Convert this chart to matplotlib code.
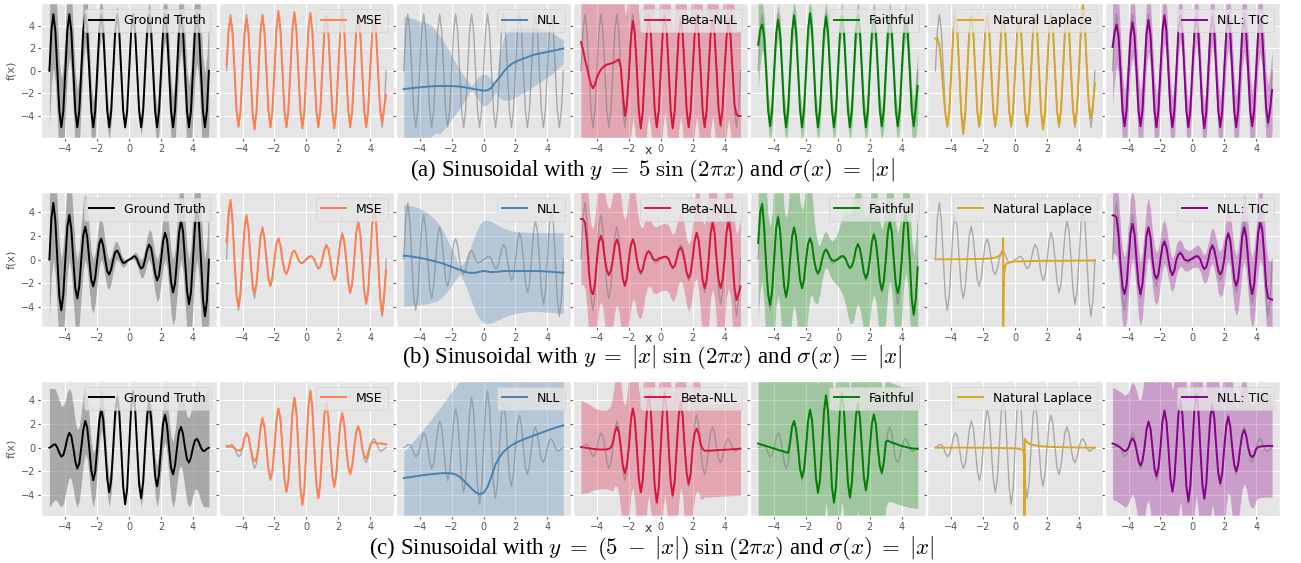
import numpy as np
import matplotlib
matplotlib.use("Agg")
import matplotlib.pyplot as plt

plt.style.use("ggplot")
plt.rcParams["mathtext.fontset"] = "cm"

# sample positions: fine grid (0.125 step) and NLL grid (0.25 step)
x = np.linspace(-5, 5, 81)
x_nll = np.linspace(-5, 5, 41)

# noise level of the data, sigma(x) = |x|
gt_sigma = [
    5.0, 4.875, 4.75, 4.625, 4.5, 4.375, 4.25, 4.125,
    4.0, 3.875, 3.75, 3.625, 3.5, 3.375, 3.25, 3.125,
    3.0, 2.875, 2.75, 2.625, 2.5, 2.375, 2.25, 2.125,
    2.0, 1.875, 1.75, 1.625, 1.5, 1.375, 1.25, 1.125,
    1.0, 0.875, 0.75, 0.625, 0.5, 0.375, 0.25, 0.125,
    0.0, 0.125, 0.25, 0.375, 0.5, 0.625, 0.75, 0.875,
    1.0, 1.125, 1.25, 1.375, 1.5, 1.625, 1.75, 1.875,
    2.0, 2.125, 2.25, 2.375, 2.5, 2.625, 2.75, 2.875,
    3.0, 3.125, 3.25, 3.375, 3.5, 3.625, 3.75, 3.875,
    4.0, 4.125, 4.25, 4.375, 4.5, 4.625, 4.75, 4.875,
    5.0,
]

# ---------------- row (a): y = 5 sin(2 pi x) ----------------
gt_a = [
    0, 3.54, 5.0, 3.54, 0, -3.54, -5.0, -3.54,
    0, 3.54, 5.0, 3.54, 0, -3.54, -5.0, -3.54,
    0, 3.54, 5.0, 3.54, 0, -3.54, -5.0, -3.54,
    0, 3.54, 5.0, 3.54, 0, -3.54, -5.0, -3.54,
    0, 3.54, 5.0, 3.54, 0, -3.54, -5.0, -3.54,
    0, 3.54, 5.0, 3.54, 0, -3.54, -5.0, -3.54,
    0, 3.54, 5.0, 3.54, 0, -3.54, -5.0, -3.54,
    0, 3.54, 5.0, 3.54, 0, -3.54, -5.0, -3.54,
    0, 3.54, 5.0, 3.54, 0, -3.54, -5.0, -3.54,
    0, 3.54, 5.0, 3.54, 0, -3.54, -5.0, -3.54,
    0,
]
mse_a = [
    0.5, 3.6, 4.7, 3.3, 0.0, -3.5, -4.9, -3.5,
    0.0, 3.3, 4.6, 3.3, 0.0, -3.7, -5.2, -3.7,
    0.0, 3.5, 4.9, 3.5, 0.0, -3.5, -5.0, -3.5,
    0.0, 3.7, 5.3, 3.7, 0.0, -3.5, -5.0, -3.5,
    0.0, 3.7, 5.2, 3.7, 0.0, -3.6, -5.1, -3.6,
    0.0, 3.6, 5.1, 3.6, 0.0, -3.5, -5.0, -3.5,
    0.0, 3.4, 4.8, 3.4, 0.0, -3.6, -5.1, -3.6,
    0.0, 3.7, 5.3, 3.7, 0.0, -3.5, -5.0, -3.5,
    0.0, 3.5, 5.0, 3.5, 0.0, -3.5, -5.0, -3.5,
    0.0, 3.3, 4.6, 3.2, -0.2, -3.4, -4.5, -3.3,
    -2.1,
]
nll_a = [
    -1.62, -1.58, -1.54, -1.5, -1.46, -1.43, -1.4, -1.38, -1.36, -1.35,
    -1.35, -1.35, -1.35, -1.37, -1.4, -1.45, -1.5, -1.57, -1.64, -1.7,
    -1.76, -1.72, -1.5, -1.0, -0.6, -0.1, 0.3, 0.6, 0.78, 0.95,
    1.08, 1.2, 1.35, 1.45, 1.52, 1.6, 1.67, 1.74, 1.82, 1.9,
    1.97,
]
nll_a_hi = [
    4.8, 4.75, 4.65, 4.55, 4.4, 4.3, 4.2, 4.0, 3.6, 3.1,
    2.6, 2.0, 1.3, 0.7, 0.1, -0.4, -0.85, -1.4, -0.85, -0.45,
    -0.3, -0.4, -0.75, -1.3, 1.5, 2.85, 3.4, 3.7, 3.8, 3.85,
    3.9, 3.9, 3.85, 3.8, 3.75, 3.7, 3.55, 3.4, 3.2, 2.95,
    2.7,
]
nll_a_lo = [
    -7.5, -7.3, -7.1, -6.9, -6.7, -6.4, -6.1, -5.8, -5.5, -5.6,
    -5.2, -4.75, -4.3, -3.85, -3.35, -2.8, -2.25, -1.7, -2.2, -2.75,
    -3.1, -3.0, -2.55, -1.9, -2.4, -2.6, -2.6, -2.5, -2.35, -2.15,
    -1.95, -1.75, -1.5, -1.25, -1.0, -0.8, -0.55, -0.3, -0.05, 0.3,
    0.65,
]
beta_a = [
    2.55, 1.9, 1.0, 0.3, -0.5, -1.2, -1.55, -1.2,
    -0.6, -0.2, 0.1, 0.3, 0.45, 0.55, 0.6, 0.65,
    0.7, 0.8, 0.9, 1.0, 0.3, -2.0, -4.0, -3.0,
    -0.5, 2.8, 4.4, 3.3, 0.2, -3.5, -5.1, -3.6,
    0.0, 3.3, 4.6, 3.3, 0.0, -3.5, -5.0, -3.5,
    0.0, 3.4, 4.9, 3.4, 0.0, -3.6, -5.1, -3.6,
    0.0, 3.2, 4.5, 3.2, 0.0, -3.5, -5.0, -3.5,
    0.0, 3.2, 4.5, 3.2, 0.0, -3.5, -5.0, -3.5,
    0.0, 3.2, 4.5, 3.2, 0.0, -3.4, -4.8, -3.4,
    0.0, 3.0, 4.3, 3.0, 0.0, -3.0, -3.9, -4.0,
    -4.0,
]
beta_a_sd = [
    12, 12, 12, 12, 12, 12, 12, 12,
    12, 12, 12, 12, 12, 12, 12, 12,
    12, 12, 12, 11, 10, 9.5, 9, 8.5,
    8.5, 8.5, 8.5, 8.5, 8.5, 8.5, 8.5, 8.5,
    8.5, 8.5, 8.5, 8.5, 8.5, 8.5, 8.5, 8.5,
    8.5, 8.5, 8.5, 8.5, 8.5, 8.5, 8.5, 8.5,
    8.5, 8.5, 8.5, 8.5, 8.5, 8.5, 8.5, 8.5,
    8.5, 8.5, 8.5, 8.5, 8.5, 8.5, 8.5, 8.5,
    8.5, 8.5, 8.5, 8.5, 8.5, 8.5, 8.5, 8.5,
    8.5, 8.5, 8.5, 8.5, 8.2, 7.9, 7.6, 7.5,
    7.5,
]
faith_a = [
    2.3, 3.6, 4.1, 3.0, 0.0, -3.5, -4.9, -3.5,
    0.0, 3.2, 4.5, 3.2, 0.0, -3.5, -5.0, -3.5,
    0.0, 3.5, 4.9, 3.5, 0.0, -3.5, -5.0, -3.5,
    0.0, 3.6, 5.1, 3.6, 0.0, -3.5, -5.0, -3.5,
    0.0, 3.4, 4.8, 3.4, 0.0, -3.5, -5.0, -3.5,
    0.0, 3.4, 4.8, 3.4, 0.0, -3.5, -5.0, -3.5,
    0.0, 3.5, 4.9, 3.5, 0.0, -3.5, -5.0, -3.5,
    0.0, 3.4, 4.8, 3.4, 0.0, -3.5, -4.9, -3.5,
    0.0, 3.3, 4.7, 3.3, 0.0, -3.5, -4.9, -3.5,
    0.0, 3.2, 4.5, 3.2, 0.0, -3.5, -4.9, -3.2,
    -1.35,
]
faith_a_sd = [
    4.0, 3.0, 2.2, 1.8, 1.6, 1.5, 1.5, 1.5,
    1.5, 1.5, 1.5, 1.5, 1.5, 1.5, 1.5, 1.5,
    1.5, 1.5, 1.5, 1.5, 1.5, 1.5, 1.5, 1.5,
    1.5, 1.5, 1.5, 1.5, 1.5, 1.5, 1.5, 1.5,
    1.4, 1.4, 1.4, 1.4, 1.4, 1.4, 1.4, 1.4,
    1.4, 1.4, 1.4, 1.4, 1.4, 1.4, 1.4, 1.4,
    1.5, 1.5, 1.5, 1.5, 1.5, 1.5, 1.5, 1.5,
    1.5, 1.5, 1.5, 1.5, 1.5, 1.5, 1.5, 1.5,
    1.5, 1.5, 1.5, 1.5, 1.5, 1.5, 1.5, 1.5,
    1.5, 1.5, 1.5, 1.6, 1.8, 2.0, 2.3, 2.7,
    3.0,
]
lap_a = [
    2.85, 2.9, 2.3, 0.5, -1.8, -3.8, -4.9, -3.6,
    0.0, 3.5, 4.9, 3.5, 0.0, -3.9, -5.6, -3.9,
    0.0, 3.4, 4.8, 3.4, 0.0, -3.5, -4.9, -3.5,
    0.0, 3.5, 4.9, 3.5, 0.0, -3.5, -4.9, -3.5,
    0.0, 3.5, 4.9, 3.5, 0.0, -3.5, -4.9, -3.5,
    0.0, 3.4, 4.8, 3.4, 0.0, -3.5, -4.9, -3.5,
    0.0, 3.6, 5.1, 3.6, 0.0, -3.7, -5.2, -3.7,
    0.0, 3.6, 5.1, 3.6, 0.0, -3.5, -4.9, -3.5,
    0.0, 3.6, 5.2, 3.6, 0.0, -3.4, -4.8, -3.4,
    0.0, 4.2, 5.9, 4.0, 0.0, -3.0, -4.2, -3.0,
    -1.1,
]
tic_a = [
    2.1, 3.4, 4.1, 3.0, 0.0, -3.5, -4.9, -3.5,
    0.0, 3.1, 4.3, 3.1, 0.0, -3.5, -4.9, -3.5,
    0.0, 3.2, 4.5, 3.2, 0.0, -3.5, -5.0, -3.5,
    0.0, 3.5, 4.9, 3.5, 0.0, -3.5, -5.0, -3.5,
    0.0, 3.5, 4.9, 3.5, 0.0, -3.5, -5.0, -3.5,
    0.0, 3.4, 4.7, 3.4, 0.0, -3.6, -5.1, -3.6,
    0.0, 3.4, 4.8, 3.4, 0.0, -3.5, -5.0, -3.5,
    0.0, 3.4, 4.8, 3.4, 0.0, -3.5, -5.0, -3.5,
    0.0, 3.3, 4.7, 3.3, 0.0, -3.5, -4.9, -3.5,
    0.0, 3.3, 4.6, 3.3, 0.0, -3.3, -4.6, -3.4,
    -1.7,
]
tic_a_sd = [
    5.0, 4.2, 3.6, 3.3, 3.1, 3.0, 3.0, 3.0,
    3.0, 3.0, 3.0, 3.0, 3.0, 3.0, 3.0, 3.0,
    2.8, 2.8, 2.8, 2.8, 2.8, 2.8, 2.8, 2.8,
    2.5, 2.5, 2.5, 2.5, 2.5, 2.5, 2.5, 2.5,
    2.2, 2.2, 2.2, 2.2, 2.2, 2.2, 2.2, 2.2,
    2.2, 2.2, 2.2, 2.2, 2.2, 2.2, 2.2, 2.2,
    2.5, 2.5, 2.5, 2.5, 2.5, 2.5, 2.5, 2.5,
    2.8, 2.8, 2.8, 2.8, 2.8, 2.8, 2.8, 2.8,
    3.0, 3.0, 3.0, 3.0, 3.0, 3.0, 3.0, 3.0,
    3.0, 3.0, 3.0, 3.0, 3.1, 3.2, 3.3, 3.4,
    3.5,
]

# ---------------- row (b): y = |x| sin(2 pi x) ----------------
gt_b = [
    0, 3.45, 4.75, 3.27, 0, -3.09, -4.25, -2.92,
    0, 2.74, 3.75, 2.56, 0, -2.39, -3.25, -2.21,
    0, 2.03, 2.75, 1.86, 0, -1.68, -2.25, -1.50,
    0, 1.33, 1.75, 1.15, 0, -0.97, -1.25, -0.80,
    0, 0.62, 0.75, 0.44, 0, -0.27, -0.25, -0.09,
    0, 0.09, 0.25, 0.27, 0, -0.44, -0.75, -0.62,
    0, 0.80, 1.25, 0.97, 0, -1.15, -1.75, -1.33,
    0, 1.50, 2.25, 1.68, 0, -1.86, -2.75, -2.03,
    0, 2.21, 3.25, 2.39, 0, -2.56, -3.75, -2.74,
    0, 2.92, 4.25, 3.09, 0, -3.27, -4.75, -3.45,
    0,
]
mse_b = [
    1.45, 4.0, 5.0, 3.2, -0.2, -3.0, -3.9, -2.7,
    0.0, 2.6, 3.7, 2.5, 0.0, -2.0, -2.8, -2.0,
    0.0, 1.9, 2.6, 1.8, 0.0, -1.6, -2.2, -1.5,
    0.0, 1.3, 1.8, 1.2, 0.0, -0.9, -1.2, -0.8,
    0.0, 0.6, 0.75, 0.45, 0.0, -0.25, -0.3, -0.15,
    0.05, 0.2, 0.3, 0.25, 0.0, -0.45, -0.75, -0.6,
    0.0, 0.8, 1.2, 0.9, 0.0, -1.15, -1.7, -1.3,
    0.0, 1.4, 2.1, 1.5, 0.0, -1.9, -2.8, -2.0,
    0.0, 2.2, 3.1, 2.2, 0.0, -2.6, -3.7, -2.6,
    0.0, 3.0, 4.2, 3.0, 0.0, -3.2, -4.6, -2.9,
    -0.9,
]
nll_b = [
    0.33, 0.3, 0.25, 0.2, 0.15, 0.08, 0.0, -0.08, -0.15, -0.25,
    -0.35, -0.48, -0.6, -0.73, -0.85, -0.98, -1.08, -1.12, -1.1, -1.02,
    -0.95, -1.0, -1.05, -1.03, -1.0, -0.96, -0.96, -0.96, -0.96, -0.96,
    -0.96, -0.96, -0.96, -0.96, -0.96, -0.98, -1.0, -1.02, -1.05, -1.08,
    -1.1,
]
nll_b_hi = [
    4.6, 4.55, 4.5, 4.4, 4.3, 4.1, 3.9, 3.6, 3.3, 2.85,
    2.3, 1.65, 0.9, 0.15, -0.6, -0.3, 0.4, 1.3, 2.2, 2.9,
    3.3, 3.3, 3.2, 3.0, 2.8, 2.65, 2.5, 2.42, 2.35, 2.3,
    2.3, 2.28, 2.27, 2.26, 2.25, 2.25, 2.25, 2.25, 2.25, 2.25,
    2.25,
]
nll_b_lo = [
    -3.9, -3.88, -3.85, -3.82, -3.8, -3.75, -3.7, -3.6, -3.5, -3.3,
    -3.0, -2.6, -2.2, -1.7, -1.2, -1.8, -2.6, -3.5, -4.4, -5.0,
    -5.3, -5.35, -5.3, -5.15, -5.0, -4.85, -4.7, -4.6, -4.5, -4.45,
    -4.4, -4.35, -4.35, -4.35, -4.35, -4.38, -4.4, -4.42, -4.45, -4.48,
    -4.5,
]
beta_b = [
    3.4, 3.4, 3.1, 1.5, -1.0, -2.6, -2.9, -2.0,
    0.0, 1.5, 2.0, 1.4, 0.0, -0.9, -1.3, -0.9,
    0.0, 1.2, 1.7, 1.2, -0.2, -1.6, -2.2, -1.6,
    0.0, 1.2, 1.7, 1.2, 0.0, -0.8, -1.1, -0.8,
    0.0, 0.5, 0.7, 0.5, 0.1, -0.05, -0.05, 0.1,
    0.15, 0.2, 0.25, 0.2, 0.05, -0.4, -0.7, -0.5,
    0.1, 0.8, 1.0, 0.7, -0.1, -1.1, -1.55, -1.1,
    0.1, 1.6, 2.25, 1.6, 0.0, -1.7, -2.4, -1.7,
    0.0, 2.2, 3.1, 2.2, 0.0, -1.7, -2.4, -1.7,
    0.0, 2.3, 3.2, 2.3, 0.0, -2.4, -3.4, -2.9,
    -2.25,
]
beta_b_sd = [
    5.5, 5.5, 5.5, 5.5, 5.5, 5.5, 5.5, 5.5,
    5.5, 5.5, 5.5, 5.5, 5.5, 5.5, 5.5, 5.5,
    5.5, 5.5, 5.5, 5.5, 5.5, 5.5, 5.5, 5.5,
    5.5, 5.3, 5.0, 4.7, 4.4, 4.1, 3.8, 3.5,
    3.2, 3.0, 2.9, 2.8, 2.8, 2.8, 2.8, 2.8,
    2.8, 2.8, 2.8, 2.8, 2.8, 2.8, 2.8, 2.8,
    2.8, 2.8, 2.8, 2.8, 2.8, 2.8, 2.8, 2.8,
    3.0, 3.4, 3.8, 4.2, 4.6, 5.0, 5.3, 5.5,
    5.5, 5.5, 5.5, 5.5, 5.5, 5.5, 5.5, 5.5,
    5.5, 5.5, 5.5, 5.5, 5.5, 5.5, 5.5, 5.5,
    5.5,
]
faith_b = [
    1.4, 4.0, 4.65, 2.6, -0.5, -2.9, -3.8, -2.6,
    0.0, 2.6, 3.55, 2.4, 0.0, -2.2, -3.1, -2.2,
    0.0, 1.9, 2.7, 1.9, 0.0, -1.7, -2.4, -1.7,
    0.0, 1.3, 1.8, 1.3, 0.0, -0.8, -1.15, -0.8,
    0.0, 0.6, 0.85, 0.6, 0.2, -0.05, -0.1, -0.05,
    0.05, 0.2, 0.3, 0.25, 0.0, -0.45, -0.7, -0.55,
    0.0, 0.9, 1.3, 0.9, 0.0, -1.1, -1.55, -1.1,
    0.0, 1.5, 2.1, 1.5, 0.0, -1.8, -2.55, -1.8,
    0.0, 2.3, 3.2, 2.3, 0.0, -2.0, -2.8, -2.0,
    0.0, 2.8, 3.95, 2.8, 0.0, -3.3, -4.6, -3.3,
    -0.65,
]
faith_b_sd = [
    6.5, 6.5, 6.5, 6.5, 6.5, 6.5, 6.5, 6.5,
    6.5, 6.5, 6.5, 6.5, 6.5, 6.5, 6.5, 6.5,
    6.5, 6.5, 6.5, 6.5, 6.5, 6.5, 6.5, 6.5,
    6.5, 5.8, 5.0, 4.2, 3.5, 2.9, 2.4, 2.0,
    1.8, 1.6, 1.5, 1.5, 1.5, 1.6, 1.8, 2.0,
    2.3, 2.7, 3.1, 3.5, 3.9, 4.3, 4.6, 4.8,
    5.0, 5.0, 5.0, 5.0, 5.0, 5.0, 5.0, 5.0,
    5.0, 5.0, 5.0, 5.0, 5.0, 5.0, 5.0, 5.0,
    5.0, 5.0, 5.0, 5.0, 5.0, 5.0, 5.0, 5.0,
    5.0, 5.0, 5.0, 5.0, 5.0, 5.0, 5.0, 5.0,
    5.0,
]
lap_b_x = [-5, -4, -3, -2, -1.5, -1.2, -1.0, -0.9, -0.82, -0.78, -0.76, -0.75,
           -0.749, -0.73, -0.7, -0.65, -0.6, -0.5, -0.3, 0, 1, 2, 3, 4, 5]
lap_b = [0.02, 0.02, 0.03, 0.05, 0.1, 0.18, 0.3, 0.42, 0.6, 0.85, 1.2, 1.8,
         -8.0, -3.0, -1.4, -0.7, -0.45, -0.3, -0.2, -0.15, -0.12, -0.1, -0.1, -0.08, -0.08]
tic_b = [
    3.7, 3.7, 3.5, 2.0, -0.5, -2.3, -2.9, -2.1,
    0.0, 2.2, 3.0, 2.1, 0.0, -2.0, -2.9, -2.0,
    0.0, 2.0, 2.7, 1.9, 0.0, -1.2, -1.6, -1.2,
    0.0, 1.1, 1.5, 1.0, 0.0, -0.9, -1.3, -0.9,
    0.0, 0.4, 0.55, 0.35, 0.0, -0.05, -0.1, 0.0,
    0.1, 0.2, 0.3, 0.25, 0.0, -0.5, -0.8, -0.6,
    0.0, 0.8, 1.2, 0.8, 0.0, -0.9, -1.25, -0.9,
    0.0, 1.6, 2.2, 1.6, 0.0, -1.6, -2.2, -1.6,
    0.0, 1.9, 2.7, 1.9, 0.0, -2.0, -2.9, -2.0,
    0.0, 2.2, 3.1, 2.5, 0.5, -2.2, -3.2, -3.3,
    -3.35,
]
tic_b_sd = [
    3.2, 3.2, 3.2, 3.2, 3.1, 3.1, 3.1, 3.0,
    3.0, 3.0, 2.9, 2.9, 2.8, 2.8, 2.7, 2.7,
    2.6, 2.5, 2.5, 2.4, 2.3, 2.3, 2.2, 2.1,
    2.0, 1.9, 1.8, 1.7, 1.6, 1.5, 1.4, 1.35,
    1.3, 1.2, 1.1, 1.0, 0.95, 0.9, 0.85, 0.8,
    0.8, 0.85, 0.9, 0.95, 1.0, 1.1, 1.2, 1.3,
    1.35, 1.4, 1.5, 1.6, 1.7, 1.8, 1.9, 2.0,
    2.1, 2.2, 2.3, 2.3, 2.4, 2.5, 2.5, 2.6,
    2.7, 2.7, 2.8, 2.8, 2.9, 2.9, 3.0, 3.0,
    3.0, 3.1, 3.1, 3.1, 3.2, 3.2, 3.2, 3.2,
    3.2,
]

# ---------------- row (c): y = (5 - |x|) sin(2 pi x) ----------------
gt_c = [
    0, 0.09, 0.25, 0.27, 0, -0.44, -0.75, -0.62,
    0, 0.80, 1.25, 0.97, 0, -1.15, -1.75, -1.33,
    0, 1.50, 2.25, 1.68, 0, -1.86, -2.75, -2.03,
    0, 2.21, 3.25, 2.39, 0, -2.56, -3.75, -2.74,
    0, 2.92, 4.25, 3.09, 0, -3.27, -4.75, -3.45,
    0, 3.45, 4.75, 3.27, 0, -3.09, -4.25, -2.92,
    0, 2.74, 3.75, 2.56, 0, -2.39, -3.25, -2.21,
    0, 2.03, 2.75, 1.86, 0, -1.68, -2.25, -1.50,
    0, 1.33, 1.75, 1.15, 0, -0.97, -1.25, -0.80,
    0, 0.62, 0.75, 0.44, 0, -0.27, -0.25, -0.09,
    0,
]
mse_c = [
    0.15, 0.1, 0.1, 0.05, -0.05, -0.2, -0.25, -0.2,
    0.0, 0.8, 1.2, 0.9, 0.0, -0.8, -1.15, -0.9,
    0.0, 1.7, 2.5, 1.8, 0.0, -1.8, -2.6, -1.9,
    0.0, 2.3, 3.3, 2.4, 0.0, -2.6, -3.7, -2.7,
    0.0, 2.9, 4.2, 3.0, 0.0, -3.4, -4.8, -3.5,
    0.0, 3.4, 4.8, 3.4, 0.0, -3.0, -4.25, -3.0,
    0.0, 2.7, 3.75, 2.6, 0.0, -2.3, -3.3, -2.3,
    0.0, 2.0, 2.9, 2.0, 0.0, -1.5, -2.2, -1.5,
    0.0, 1.3, 1.8, 1.3, 0.0, -0.7, -0.9, -0.4,
    0.2, 0.45, 0.45, 0.4, 0.35, 0.35, 0.35, 0.3,
    0.3,
]
nll_c = [
    -2.55, -2.5, -2.45, -2.4, -2.35, -2.3, -2.26, -2.22, -2.19, -2.16,
    -2.14, -2.14, -2.16, -2.25, -2.45, -2.75, -3.1, -3.45, -3.75, -3.9,
    -3.8, -3.3, -2.4, -1.4, -0.8, -0.35, -0.05, 0.2, 0.4, 0.55,
    0.7, 0.82, 0.95, 1.07, 1.2, 1.32, 1.45, 1.56, 1.68, 1.78,
    1.88,
]
nll_c_hi = [
    -0.3, 0.05, 0.4, 0.8, 1.2, 1.6, 2.0, 2.45, 2.9, 3.35,
    3.8, 4.25, 4.7, 5.15, 5.6, 6.1, 6.6, 8, 8, 8,
    8, 8, 8, 8, 8, 8, 8, 8, 8, 8,
    8, 8, 8, 8, 8, 8, 8, 8, 8, 8,
    8,
]
nll_c_lo = [
    -8, -8, -8, -8, -8, -8, -8, -8, -8, -8,
    -8, -8, -8, -8, -8, -8, -8, -8, -8, -8,
    -8, -8, -8, -8, -8, -8, -8, -8, -8, -8,
    -8, -8, -8, -8, -8, -8, -8, -8, -8, -8,
    -8,
]
beta_c = [
    0.05, 0.03, 0.0, -0.02, -0.05, -0.07, -0.1, -0.12,
    -0.13, -0.14, -0.15, -0.15, -0.15, -0.14, -0.1, 0.0,
    0.4, 1.3, 1.75, 1.3, 0.0, -1.5, -2.15, -1.5,
    0.0, 2.3, 3.3, 2.4, 0.0, -2.6, -3.75, -2.7,
    0.0, 3.0, 4.4, 3.1, 0.0, -3.3, -4.6, -3.3,
    0.0, 3.2, 4.6, 3.2, 0.0, -2.9, -4.0, -2.8,
    0.0, 2.7, 3.9, 2.7, 0.0, -2.1, -3.05, -2.2,
    0.0, 1.2, 1.6, 1.2, 0.3, -0.1, -0.25, -0.25,
    -0.25, -0.24, -0.23, -0.22, -0.21, -0.2, -0.19, -0.18,
    -0.17, -0.16, -0.15, -0.14, -0.13, -0.12, -0.11, -0.1,
    -0.1,
]
beta_c_sd = [
    3.9, 3.9, 3.8, 3.8, 3.7, 3.6, 3.5, 3.4,
    3.4, 3.35, 3.3, 3.3, 3.3, 3.35, 3.4, 3.6,
    4.0, 4.5, 5.0, 5.2, 5.4, 5.5, 5.6, 5.8,
    6.0, 6.3, 6.6, 6.9, 7.2, 7.4, 7.6, 7.8,
    8.0, 8.2, 8.4, 8.5, 8.5, 8.5, 8.5, 8.5,
    8.5, 8.5, 8.5, 8.5, 8.4, 8.2, 8.0, 7.8,
    7.6, 7.4, 7.2, 6.9, 6.6, 6.3, 6.0, 5.8,
    5.6, 5.4, 5.2, 5.0, 4.6, 4.2, 3.9, 3.9,
    3.9, 3.9, 3.9, 3.9, 3.9, 3.9, 3.9, 3.9,
    3.9, 3.9, 3.9, 3.9, 3.9, 3.9, 3.9, 3.9,
    3.9,
]
faith_c = [
    0.35, 0.30, 0.24, 0.19, 0.14, 0.09, 0.03, -0.02,
    -0.07, -0.12, -0.18, -0.23, -0.28, -0.33, -0.39, -0.44,
    0.5, 1.8, 2.25, 1.5, 0.0, -1.8, -2.5, -1.8,
    0.0, 2.2, 3.2, 2.3, 0.0, -2.6, -3.8, -2.7,
    0.0, 3.0, 4.4, 3.1, 0.0, -3.3, -4.6, -3.3,
    0.0, 3.2, 4.5, 3.2, 0.0, -2.9, -4.2, -2.9,
    0.0, 2.6, 3.7, 2.6, 0.0, -2.5, -3.6, -2.5,
    0.0, 2.0, 2.8, 2.0, 0.0, -1.5, -2.1, -1.2,
    0.5, 0.6, 0.5, 0.44, 0.38, 0.32, 0.26, 0.2,
    0.14, 0.1, 0.06, 0.02, -0.02, -0.05, -0.07, -0.09,
    -0.1,
]
faith_c_sd = [
    7, 7, 7, 7, 7, 7, 7, 7,
    7, 7, 7, 7, 7, 7, 7, 7,
    7.5, 8, 8.5, 9, 9, 9, 9, 9,
    9, 9, 9, 9, 9, 9, 9, 9,
    9, 9, 9, 9, 9, 9, 9, 9,
    9, 9, 9, 9, 9, 9, 9, 9,
    9, 9, 9, 9, 9, 9, 9, 9,
    9, 9, 9, 9, 8.5, 8, 7, 6,
    5.5, 5.2, 5.0, 5.0, 5.0, 5.0, 5.0, 5.0,
    5.0, 5.0, 5.0, 5.0, 5.0, 5.0, 5.0, 5.0,
    5.0,
]
lap_c_x = [-5, -3, -1, 0, 0.3, 0.45, 0.52, 0.56, 0.58, 0.581, 0.6, 0.65,
           0.75, 0.9, 1.1, 1.5, 2, 3, 4, 5]
lap_c = [0.0, 0.0, -0.02, -0.05, -0.1, -0.18, -0.3, -0.5, -0.9, -8.0, 0.75, 0.6,
         0.45, 0.33, 0.24, 0.14, 0.08, 0.03, 0.01, 0.0]
tic_c = [
    0.35, 0.3, 0.2, 0.1, 0.0, -0.15, -0.3, -0.2,
    0.0, 0.5, 0.8, 0.5, -0.2, -1.1, -1.5, -1.1,
    0.0, 1.5, 2.2, 1.6, 0.0, -1.7, -2.4, -1.7,
    0.0, 2.2, 3.1, 2.2, 0.0, -2.6, -3.7, -2.6,
    0.0, 2.8, 4.0, 2.8, 0.0, -3.2, -4.5, -3.2,
    0.0, 3.2, 4.5, 3.2, 0.0, -3.0, -4.3, -3.0,
    0.0, 2.5, 3.6, 2.5, 0.0, -2.1, -3.0, -2.1,
    0.0, 1.8, 2.6, 1.8, 0.0, -1.4, -2.0, -1.4,
    0.0, 1.1, 1.5, 1.0, 0.0, -0.6, -0.8, -0.6,
    -0.1, 0.05, 0.1, 0.12, 0.13, 0.14, 0.15, 0.15,
    0.15,
]
tic_c_sd = [
    4.7, 4.7, 4.7, 4.7, 4.7, 4.7, 4.7, 4.7,
    4.7, 4.7, 4.7, 4.8, 5.0, 5.2, 5.5, 5.8,
    6.0, 6.3, 6.6, 6.9, 7.2, 7.5, 7.8, 8.0,
    8.2, 8.4, 8.5, 8.5, 8.5, 8.5, 8.5, 8.5,
    8.5, 8.5, 8.5, 8.5, 8.5, 8.5, 8.5, 8.5,
    8.5, 8.5, 8.5, 8.5, 8.5, 8.5, 8.5, 8.5,
    8.5, 8.5, 8.4, 8.2, 8.0, 7.8, 7.5, 7.2,
    6.9, 6.6, 6.3, 6.0, 5.8, 5.5, 5.2, 5.0,
    4.8, 4.6, 4.5, 4.4, 4.4, 4.3, 4.3, 4.3,
    4.3, 4.3, 4.3, 4.3, 4.3, 4.3, 4.3, 4.3,
    4.3,
]

names = ["Ground Truth", "MSE", "NLL", "Beta-NLL", "Faithful",
         "Natural Laplace", "NLL: TIC"]
colors = ["black", "coral", "steelblue", "crimson", "green",
          "goldenrod", "darkmagenta"]

captions = [
    r"(a) Sinusoidal with $y\;=\;5\;\mathrm{sin}\;(2\pi x)$ and $\sigma(x)\;=\;|x|$",
    r"(b) Sinusoidal with $y\;=\;|x|\;\mathrm{sin}\;(2\pi x)$ and $\sigma(x)\;=\;|x|$",
    r"(c) Sinusoidal with $y\;=\;(5\;-\;|x|)\;\mathrm{sin}\;(2\pi x)$ and $\sigma(x)\;=\;|x|$",
]

rows = [
    dict(gt=gt_a, mse=mse_a, nll=(nll_a, nll_a_lo, nll_a_hi),
         beta=(beta_a, beta_a_sd), faith=(faith_a, faith_a_sd),
         lap=(x, lap_a), tic=(tic_a, tic_a_sd), ylim=(-5.95, 6.0),
         top=3, xlab=151, cap=170),
    dict(gt=gt_b, mse=mse_b, nll=(nll_b, nll_b_lo, nll_b_hi),
         beta=(beta_b, beta_b_sd), faith=(faith_b, faith_b_sd),
         lap=(lap_b_x, lap_b), tic=(tic_b, tic_b_sd), ylim=(-5.6, 5.7),
         top=191.5, xlab=339, cap=357),
    dict(gt=gt_c, mse=mse_c, nll=(nll_c, nll_c_lo, nll_c_hi),
         beta=(beta_c, beta_c_sd), faith=(faith_c, faith_c_sd),
         lap=(lap_c_x, lap_c), tic=(tic_c, tic_c_sd), ylim=(-5.7, 5.65),
         top=380.5, xlab=529, cap=548),
]

W, H = 1301, 563
fig = plt.figure(figsize=(W / 100, H / 100), dpi=100)

for r, row in enumerate(rows):
    gt = np.array(row["gt"])
    sig = np.array(gt_sigma)
    for k in range(7):
        ax = fig.add_axes([(41.4 + k * 177.2) / W, 1 - (row["top"] + 135) / H,
                           175.5 / W, 135 / H])
        c = colors[k]
        if k == 0:
            ax.fill_between(x, gt - sig, gt + sig, color="gray", alpha=0.6, lw=0)
            ax.plot(x, gt, color=c, lw=1.4, label=names[k])
        else:
            key = ["mse", "nll", "beta", "faith", "lap", "tic"][k - 1]
            if key == "nll":
                m, lo, hi = row["nll"]
                ax.fill_between(x_nll, lo, hi, color=c, alpha=0.3, lw=0)
                xs, ys = x_nll, m
            elif key in ("beta", "faith", "tic"):
                m, sd = row[key]
                m, sd = np.array(m), np.array(sd)
                ax.fill_between(x, m - sd, m + sd, color=c, alpha=0.3, lw=0)
                xs, ys = x, m
            elif key == "lap":
                xs, ys = row["lap"]
            else:
                xs, ys = x, row["mse"]
            ax.plot(x, gt, color="gray", alpha=0.6, lw=1)
            ax.plot(xs, ys, color=c, lw=1.4, label=names[k])
        ax.set_xlim(-5.5, 5.5)
        ax.set_ylim(*row["ylim"])
        ax.set_xticks([-4, -2, 0, 2, 4])
        ax.set_yticks([-4, -2, 0, 2, 4])
        ax.tick_params(labelsize=7, length=2.5, pad=2)
        if k == 0:
            ax.set_ylabel("f(x)", fontsize=8, color="#555555", labelpad=3)
        else:
            ax.tick_params(labelleft=False)
        ax.legend(loc="upper right", fontsize=9, handlelength=2)

    fig.text(648 / W, 1 - row["xlab"] / H, "x", ha="center", va="center",
             fontsize=9, color="#333333")
    fig.text(652 / W, 1 - row["cap"] / H, captions[r], ha="center", va="center",
             fontsize=16.5, family="Liberation Serif")

fig.savefig("out.png", dpi=100)
